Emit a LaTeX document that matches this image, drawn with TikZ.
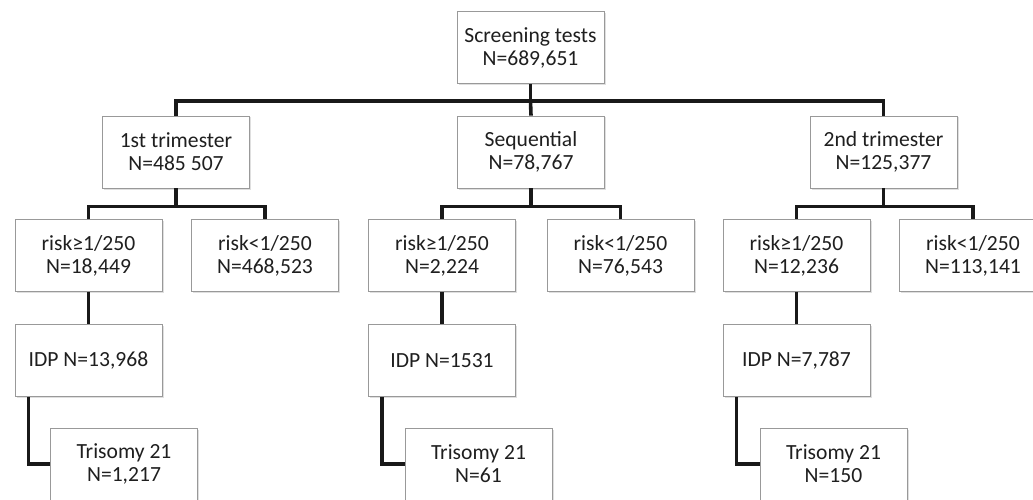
\documentclass[tikz,border=0pt]{standalone}
\usepackage{fontspec}
\setmainfont{Carlito}
\usepackage{tikz}
\usetikzlibrary{shadows}
\usepackage{xcolor}

\begin{document}
\begin{tikzpicture}[x=1pt, y=-1pt,
		box/.style={draw=black!40, fill=white, line width=0.8pt,
			minimum width=147pt, minimum height=72pt, align=center,
			text=black!88, inner sep=2pt,
			font=\fontsize{21.6}{23}\selectfont,
			drop shadow={shadow xshift=1.5pt, shadow yshift=-1.5pt, fill=black!25}},
		link/.style={line width=3.6pt, black!90}]
	\useasboundingbox (0,0) rectangle (1033,500);
	\begin{scope}
		\clip (0,0) rectangle (1033,500);

		% Gesamtzahl
		\node[box] (screen) at (530.5,47.5) {Screening tests\\N=689,651};

		% Testverfahren
		\node[box] (tri1) at (176,152) {1st trimester\\N=485 507};
		\node[box] (seq) at (531,152) {Sequential\\N=78,767};
		\node[box] (tri2) at (883.5,152) {2nd trimester\\N=125,377};

		% Risiko
		\node[box] (r1a) at (88.5,255.5) {risk≥1/250\\N=18,449};
		\node[box] (r1b) at (265,255.5) {risk<1/250\\N=468,523};
		\node[box] (r2a) at (442,255.5) {risk≥1/250\\N=2,224};
		\node[box] (r2b) at (620.5,255.5) {risk<1/250\\N=76,543};
		\node[box] (r3a) at (796.5,255.5) {risk≥1/250\\N=12,236};
		\node[box] (r3b) at (973,255.5) {risk<1/250\\N=113,141};

		% IDP
		\node[box] (idp1) at (88.5,360.5) {IDP N=13,968};
		\node[box] (idp2) at (442,360.5) {IDP N=1531};
		\node[box] (idp3) at (796.5,360.5) {IDP N=7,787};

		% Trisomie 21
		\node[box] (t1) at (124,464) {Trisomy 21\\N=1,217};
		\node[box] (t2) at (478.5,464) {Trisomy 21\\N=61};
		\node[box] (t3) at (833.5,464) {Trisomy 21\\N=150};

		% Verbindungen
		\draw[link] (screen.south) -- ++(0,17) coordinate (b0);
		\draw[link] (b0) -| (tri1.north);
		\draw[link] (b0) -| (tri2.north);
		\draw[link] (b0) -- (seq.north);

		\draw[link] (tri1.south) -- ++(0,18) coordinate (b1);
		\draw[link] (b1) -| (r1a.north);
		\draw[link] (b1) -| (r1b.north);
		\draw[link] (seq.south) -- ++(0,18) coordinate (b2);
		\draw[link] (b2) -| (r2a.north);
		\draw[link] (b2) -| (r2b.north);
		\draw[link] (tri2.south) -- ++(0,18) coordinate (b3);
		\draw[link] (b3) -| (r3a.north);
		\draw[link] (b3) -| (r3b.north);

		\draw[link] (r1a.south) -- (idp1.north);
		\draw[link] (r2a.south) -- (idp2.north);
		\draw[link] (r3a.south) -- (idp3.north);

		\draw[link] ([xshift=14pt]idp1.south west) |- (t1.west);
		\draw[link] ([xshift=14pt]idp2.south west) |- (t2.west);
		\draw[link] ([xshift=14pt]idp3.south west) |- (t3.west);
	\end{scope}
\end{tikzpicture}
\end{document}
